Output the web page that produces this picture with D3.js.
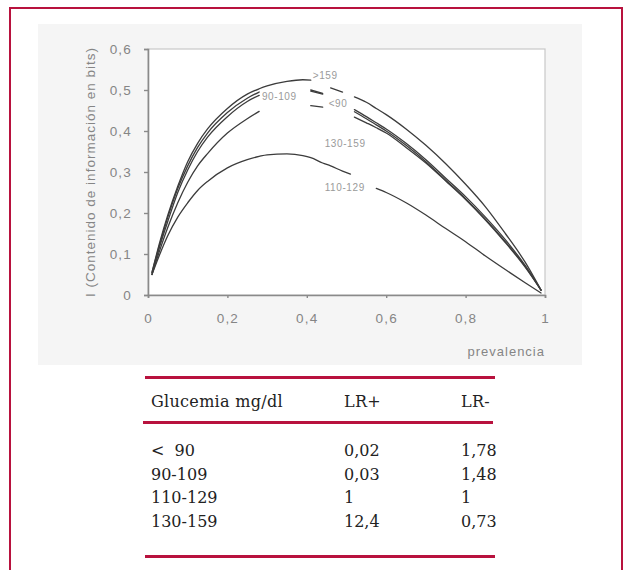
<!DOCTYPE html>
<html>
<head>
<meta charset="utf-8">
<script src="https://cdn.jsdelivr.net/npm/d3@7"></script>
<style>
  html, body { margin: 0; padding: 0; background: #ffffff; }
  svg { display: block; }
</style>
</head>
<body>
<svg id="chart" width="624" height="570"></svg>
<script>
// ---------- DATA ----------
const prevalence = [0.01, 0.03, 0.05, 0.075, 0.1, 0.125, 0.15, 0.2, 0.25, 0.28, 0.3, 0.35, 0.39, 0.41, 0.44, 0.46, 0.49, 0.51, 0.52, 0.55, 0.575, 0.6, 0.65, 0.7, 0.75, 0.8, 0.85, 0.9, 0.95, 0.99];
const seriesNames = [">159", "90-109", "<90", "130-159", "110-129"];
const infoGt159   = [0.055, 0.13, 0.195, 0.265, 0.325, 0.37, 0.405, 0.455, 0.49, 0.503, 0.51, 0.521, 0.525, 0.524, null, 0.505, 0.495, null, 0.483, 0.47, 0.455, 0.44, 0.405, 0.365, 0.32, 0.27, 0.215, 0.15, 0.08, 0.012];
const info90_109  = [0.055, 0.125, 0.19, 0.26, 0.315, 0.36, 0.395, 0.445, 0.48, 0.495, null, null, null, 0.5, 0.492, null, null, null, 0.452, 0.435, 0.42, 0.405, 0.37, 0.33, 0.285, 0.24, 0.19, 0.135, 0.072, 0.012];
const infoLt90    = [0.05, 0.12, 0.18, 0.25, 0.305, 0.35, 0.385, 0.435, 0.472, 0.487, null, null, null, 0.497, 0.49, null, null, null, 0.447, 0.43, 0.415, 0.4, 0.365, 0.325, 0.28, 0.235, 0.185, 0.13, 0.07, 0.012];
const info130_159 = [0.05, 0.11, 0.165, 0.225, 0.275, 0.315, 0.345, 0.395, 0.43, 0.448, null, null, null, 0.462, 0.458, null, null, null, 0.434, 0.42, 0.408, 0.395, 0.36, 0.322, 0.278, 0.233, 0.183, 0.128, 0.068, 0.012];
const info110_129 = [0.05, 0.1, 0.145, 0.19, 0.225, 0.255, 0.277, 0.31, 0.33, 0.338, 0.342, 0.344, 0.34, 0.335, 0.322, 0.315, 0.302, 0.295, null, null, 0.26, 0.25, 0.225, 0.195, 0.162, 0.13, 0.095, 0.062, 0.03, 0.005];
const seriesValues = [infoGt159, info90_109, infoLt90, info130_159, info110_129];
// curve label anchor points [prevalence, info]
const labelPrev = [0.415, 0.287, 0.455, 0.445, 0.445];
const labelInfo = [0.535, 0.484, 0.467, 0.37, 0.263];

const xTicks = [0, 0.2, 0.4, 0.6, 0.8, 1];
const yTicks = [0, 0.1, 0.2, 0.3, 0.4, 0.5, 0.6];
const xTitle = "prevalencia";
const yTitle = "I (Contenido de información en bits)";

const tableHeader = ["Glucemia mg/dl", "LR+", "LR-"];
const glucemia = ["<  90", "90-109", "110-129", "130-159"];
const lrPos = ["0,02", "0,03", "1", "12,4"];
const lrNeg = ["1,78", "1,48", "1", "0,73"];

// ---------- DRAW ----------
const svg = d3.select("#chart");
const red = "#b8123e";
const fmt = v => v === 0 ? "0" : v === 1 ? "1" : String(v).replace(".", ",");

// outer frame
svg.append("rect").attr("x", 10).attr("y", 8).attr("width", 612).attr("height", 580)
  .attr("fill", "none").attr("stroke", red).attr("stroke-width", 2);

// chart panel
svg.append("rect").attr("x", 38).attr("y", 24).attr("width", 544).attr("height", 341)
  .attr("fill", "#f5f5f5");

const x = d3.scaleLinear().domain([0, 1]).range([148, 545]);
const y = d3.scaleLinear().domain([0, 0.6]).range([295, 49]);

// plot area
svg.append("rect").attr("x", x(0)).attr("y", y(0.6)).attr("width", x(1) - x(0)).attr("height", y(0) - y(0.6))
  .attr("fill", "#ffffff").attr("stroke", "#c8c8c8").attr("stroke-width", 1.2);

const tickFont = "'Liberation Sans', Arial, sans-serif";
const gx = svg.append("g").attr("transform", `translate(0,${y(0)})`)
  .call(d3.axisBottom(x).tickValues(xTicks).tickFormat(fmt).tickSize(3).tickPadding(15));
const gy = svg.append("g").attr("transform", `translate(${x(0)},0)`)
  .call(d3.axisLeft(y).tickValues(yTicks).tickFormat(fmt).tickSize(4).tickPadding(12));
[gx, gy].forEach(g => {
  g.select(".domain").attr("stroke", "#8a8a8a").attr("stroke-width", 1.6);
  g.selectAll(".tick line").attr("stroke", "#8a8a8a").attr("stroke-width", 1.4);
  g.selectAll(".tick text").attr("fill", "#858585").style("font-family", tickFont)
    .style("font-size", "13.5px").style("letter-spacing", "1.2px");
});

// axis titles
svg.append("text").attr("x", 545).attr("y", 356).attr("text-anchor", "end")
  .attr("fill", "#858585").style("font-family", tickFont).style("font-size", "13px")
  .style("letter-spacing", "1px").text(xTitle);
svg.append("text").attr("transform", "translate(95,172) rotate(-90)").attr("text-anchor", "middle")
  .attr("fill", "#858585").style("font-family", tickFont).style("font-size", "13.5px")
  .style("letter-spacing", "1px").text(yTitle);

// curves
const line = d3.line()
  .defined(d => d[1] !== null)
  .x(d => x(d[0])).y(d => y(d[1]))
  .curve(d3.curveMonotoneX);
seriesValues.forEach((vals, i) => {
  const pts = prevalence.map((p, j) => [p, vals[j]]);
  svg.append("path").datum(pts).attr("d", line)
    .attr("fill", "none").attr("stroke", "#3c3c3c").attr("stroke-width", 1.3)
    .attr("stroke-linecap", "round");
});

// curve labels
seriesNames.forEach((name, i) => {
  svg.append("text").attr("x", x(labelPrev[i])).attr("y", y(labelInfo[i]) + 3.5)
    .attr("fill", "#9a9a9a").style("font-family", tickFont).style("font-size", "10px")
    .style("letter-spacing", "0.6px").text(name);
});

// ---------- TABLE ----------
const serif = "'DejaVu Serif', 'Liberation Serif', serif";
const colX = [151, 344, 461];
const rule = (x1, x2, yy) => svg.append("line").attr("x1", x1).attr("x2", x2).attr("y1", yy).attr("y2", yy)
  .attr("stroke", red).attr("stroke-width", 3);
rule(145, 495, 377.5);
rule(143, 493, 422.5);
rule(145, 495, 556.5);

svg.append("g").selectAll("text").data(tableHeader).join("text")
  .attr("x", (d, i) => colX[i]).attr("y", 407)
  .attr("fill", "#222").style("font-family", serif).style("font-size", "16px")
  .style("letter-spacing", "0.3px").text(d => d);

const rowsY = [456, 479.5, 503, 527];
const rows = glucemia.map((g, i) => [g, lrPos[i], lrNeg[i]]);
const rg = svg.append("g").selectAll("g").data(rows).join("g")
  .attr("transform", (d, i) => `translate(0,${rowsY[i]})`);
rg.selectAll("text").data(d => d).join("text")
  .attr("x", (d, i) => colX[i]).attr("y", 0)
  .attr("fill", "#222").style("font-family", serif).style("font-size", "16px")
  .style("white-space", "pre").attr("xml:space", "preserve").text(d => d);
</script>
</body>
</html>
